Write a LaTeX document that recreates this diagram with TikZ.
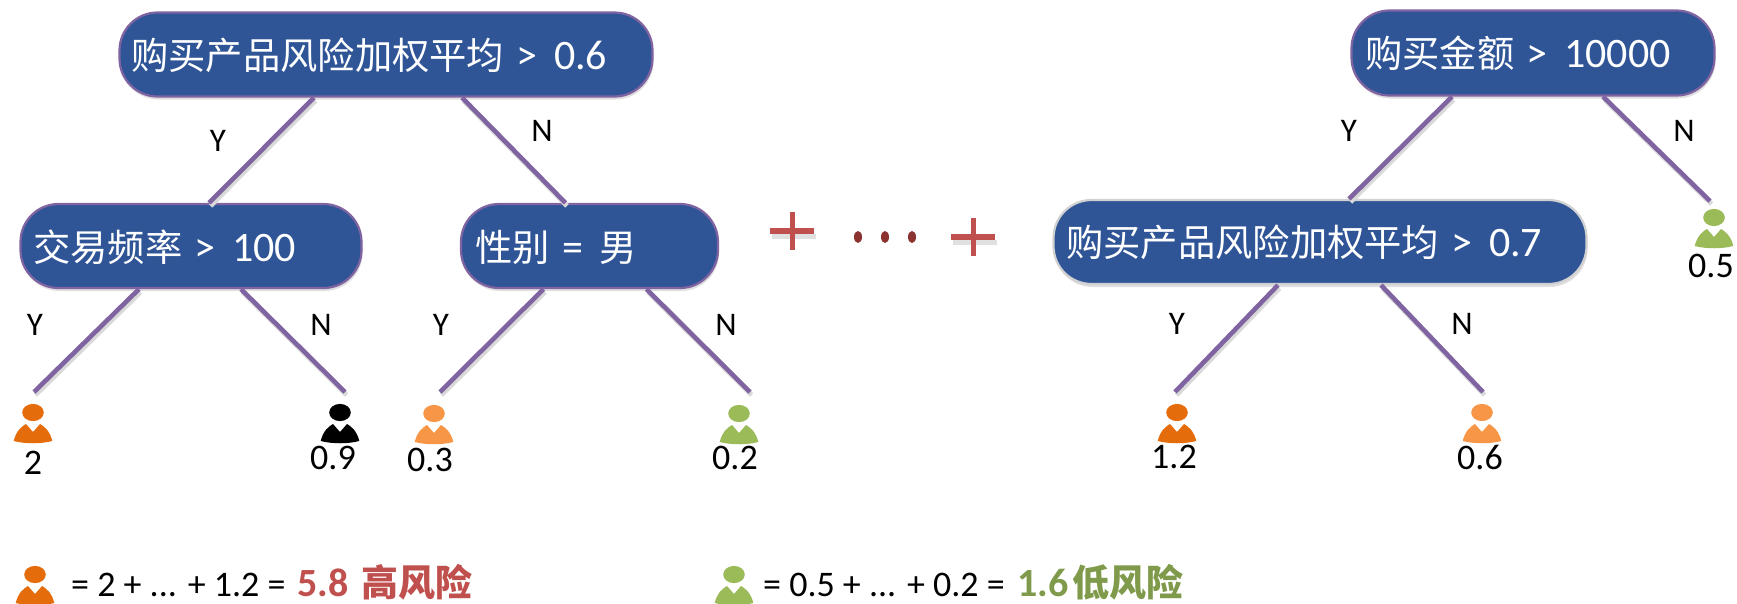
\documentclass[tikz,border=0pt]{standalone}
\usepackage{fontspec}
\setmainfont{Carlito}
\newfontfamily\cjk{Noto Sans CJK SC}
\newcommand{\boxzh}[1]{{\fontsize{37.3}{37}\selectfont\cjk #1}}
\newcommand{\gapa}{\hspace{3pt}}
\newcommand{\gapb}{\hspace{7pt}}
\usetikzlibrary{calc,shadows}
\definecolor{boxblue}{HTML}{2F5597}
\definecolor{boxline}{HTML}{8064A2}
\definecolor{iconorange}{HTML}{E46C0A}
\definecolor{iconlight}{HTML}{F79646}
\definecolor{icongreen}{HTML}{9BBB59}
\definecolor{redtext}{HTML}{C0504D}
\definecolor{greentext}{HTML}{7F9A4A}
\definecolor{dotred}{HTML}{8C3230}
\tikzset{
  decision/.style={rounded corners=38pt,fill=boxblue,draw=boxline,line width=2.2pt,
    inner sep=0pt,drop shadow={opacity=.25,shadow xshift=1pt,shadow yshift=-3pt}},
  boxtext/.style={text=white,font=\fontsize{42}{42}\selectfont,anchor=base west,inner sep=0pt},
  edgeline/.style={draw=boxline,line width=4.6pt},
  edgeshade/.style={draw=black!15,line width=4.8pt,transform canvas={xshift=1.5pt,yshift=-3pt}},
  branchlabel/.style={font=\fontsize{33}{33}\selectfont,inner sep=0pt},
  leafvalue/.style={font=\fontsize{36}{36}\selectfont,inner sep=0pt},
  sumtext/.style={font=\fontsize{36}{36}\selectfont,inner sep=0pt,anchor=base west},
  risktext/.style={font=\fontsize{37}{37}\selectfont\bfseries,inner sep=0pt,anchor=base west},
  plusbar/.style={fill=redtext,draw=none},
  person/.pic={
    \fill[pic actions] (0,-14.5) ellipse (10.8 and 8.6);
    \fill[pic actions] (-19.3,14) .. controls (-17,4) and (-11,-1) .. (-7,-3)
      -- (0,5) -- (7,-3) .. controls (11,-1) and (17,4) .. (19.3,14)
      .. controls (8,17) and (-8,17) .. (-19.3,14) -- cycle;
  }
}
\begin{document}
\begin{tikzpicture}[x=1pt,y=-1pt]
\useasboundingbox (0,0) rectangle (1737,603);

% decision nodes
\node[decision,minimum width=533pt,minimum height=84pt] (n1) at (386,54.5) {};
\node[decision,minimum width=341pt,minimum height=84pt] (n2) at (191,246) {};
\node[decision,minimum width=257pt,minimum height=84pt] (n3) at (589.5,246) {};
\node[decision,minimum width=363pt,minimum height=85pt] (n4) at (1533,53) {};
\node[decision,draw=black!18,minimum width=533pt,minimum height=84pt] (n5) at (1320,242) {};

\node[boxtext] (t1) at (131,69) {\boxzh{购买产品风险加权平均}\gapa{} >\gapb{} 0.6};
\node[boxtext] (t2) at (33,261) {\boxzh{交易频率}\gapa{} >\gapb{} 100};
\node[boxtext] (t3) at (475,261) {\boxzh{性别}\gapa{} =\gapb{} \boxzh{男}};
\node[boxtext] (t4) at (1365,67) {\boxzh{购买金额}\gapa{} >\gapb{} 10000};
\node[boxtext] (t5) at (1066,256) {\boxzh{购买产品风险加权平均}\gapa{} >\gapb{} 0.7};

% leaf anchors (free connector ends)
\coordinate (l1) at (34,392);
\coordinate (l2) at (345,392);
\coordinate (l3) at (440,392);
\coordinate (l4) at (750,392);
\coordinate (l5) at (1175,392);
\coordinate (l6) at (1483,392);
\coordinate (l7) at (1710,201);

% connector ends on the nodes
\coordinate (a1) at ($(n1.south)+(-72,0)$);
\coordinate (a2) at ($(n1.south)+(76,0)$);
\coordinate (a3) at ($(n2.south)+(-52,0)$);
\coordinate (a4) at ($(n2.south)+(50,0)$);
\coordinate (a5) at ($(n3.south)+(-46,0)$);
\coordinate (a6) at ($(n3.south)+(57,0)$);
\coordinate (a7) at ($(n4.south)+(-81,0)$);
\coordinate (a8) at ($(n4.south)+(70,0)$);
\coordinate (a9) at ($(n5.south)+(-42,0)$);
\coordinate (a10) at ($(n5.south)+(61,0)$);
\coordinate (b1) at ($(n2.north)+(18,0)$);
\coordinate (b2) at ($(n3.north)+(-24,0)$);
\coordinate (b3) at ($(n5.north)+(29,0)$);

\foreach \s/\e in {a1/b1,a2/b2,a3/l1,a4/l2,a5/l3,a6/l4,a7/b3,a8/l7,a9/l5,a10/l6}{
  \draw[edgeshade] (\s) -- (\e);
  \draw[edgeline] (\s) -- (\e);
}

% branch labels
\node[branchlabel] (y1) at (218,141) {Y};
\node[branchlabel] (x1) at (542,131) {N};
\node[branchlabel] (y2) at (35,325) {Y};
\node[branchlabel] (x2) at (321,325) {N};
\node[branchlabel] (y3) at (441,325) {Y};
\node[branchlabel] (x3) at (726,325) {N};
\node[branchlabel] (y4) at (1349,131) {Y};
\node[branchlabel] (x4) at (1684,131) {N};
\node[branchlabel] (y5) at (1177,324) {Y};
\node[branchlabel] (x5) at (1462,324) {N};

% leaf icons
\pic[iconorange] at (33,427) {person};
\pic[black] at (340,427) {person};
\pic[iconlight] at (434,428) {person};
\pic[icongreen] at (739,428) {person};
\pic[iconorange] at (1177,427) {person};
\pic[iconlight] at (1482,427) {person};
\pic[icongreen] at (1714,232) {person};

% leaf values
\node[leafvalue] (v1) at (33,463) {2};
\node[leafvalue] (v2) at (333,458) {0.9};
\node[leafvalue] (v3) at (430,460) {0.3};
\node[leafvalue] (v4) at (735,458) {0.2};
\node[leafvalue] (v5) at (1174,457) {1.2};
\node[leafvalue] (v6) at (1480,457) {0.6};
\node[leafvalue] (v7) at (1711,266) {0.5};

% plus signs and dots
\fill[black!12] (771,231) ++(1,3) rectangle ++(44,5);
\fill[black!12] (952,237) ++(1,3) rectangle ++(44,5);
\fill[plusbar] (770,228) rectangle (814,234);
\fill[plusbar] (789.5,212) rectangle (794.5,250);
\fill[plusbar] (951,234) rectangle (995,240);
\fill[plusbar] (970.5,218) rectangle (975.5,256);
\fill[dotred] (858,237) ellipse (4 and 6);
\fill[dotred] (885,237) ellipse (4 and 6);
\fill[dotred] (912,237) ellipse (4 and 6);

% bottom lines
\pic[iconorange] at (35,589) {person};
\pic[icongreen] at (734,589) {person};
\node[sumtext] (s1) at (71,596) {= 2 + ... + 1.2 =};
\node[risktext,text=redtext,font=\fontsize{40}{40}\selectfont\bfseries] (r1) at (297,596) {5.8};
\node[risktext,text=redtext] (c1) at (361,596) {{\cjk\bfseries 高风险}};
\node[sumtext] (s2) at (763,596) {= 0.5 + ... + 0.2 =};
\node[risktext,text=greentext,font=\fontsize{40}{40}\selectfont\bfseries] (r2) at (1017,596) {1.6};
\node[risktext,text=greentext] (c2) at (1072,596) {{\cjk\bfseries 低风险}};
\end{tikzpicture}
\end{document}
